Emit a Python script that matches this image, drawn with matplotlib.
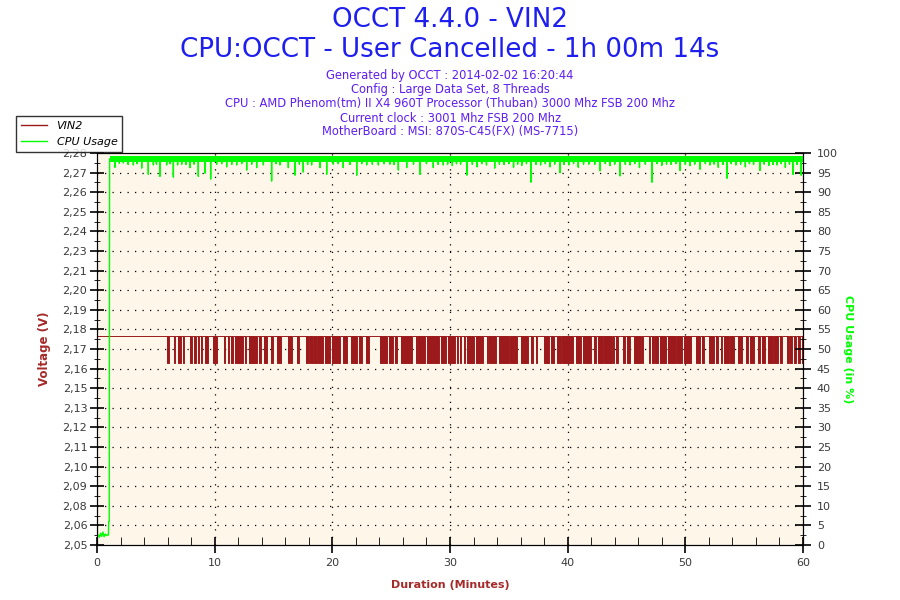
import matplotlib.pyplot as plt
from matplotlib.lines import Line2D
import numpy as np

# VIN2 voltage: steady level with blocks of fast toggling down to the low level (minutes)
volt_hi = 2.176
volt_lo = 2.160
run_end = 60.23
volt_dip_start = [5.95, 6.54, 6.88, 7.31, 7.90, 8.24, 8.58, 8.84, 9.18, 9.86, 10.79, 11.13, 11.39, 11.73,
                  12.58, 12.92, 13.77, 14.19, 14.79, 15.30, 16.23, 17.00, 17.76, 18.10, 18.44, 18.78,
                  19.38, 19.97, 20.91, 21.59, 22.27, 22.86, 24.05, 24.82, 25.32, 25.83, 27.11, 27.28,
                  28.04, 29.23, 29.83, 30.59, 30.85, 31.19, 31.44, 32.21, 33.14, 33.31, 34.16, 35.10,
                  36.03, 36.88, 37.31, 37.99, 38.58, 39.09, 39.52, 40.71, 41.30, 42.24, 42.58, 43.09,
                  43.85, 44.11, 44.70, 45.04, 45.64, 46.32, 46.91, 47.17, 47.42, 47.85, 48.52, 49.29,
                  49.88, 50.90, 51.42, 52.01, 52.60, 53.03, 53.28, 53.79, 54.47, 55.15, 55.49, 56.17,
                  56.51, 57.02, 57.53, 58.04, 58.64, 58.89, 59.23, 59.57, 59.91]
volt_dip_end = [6.12, 6.63, 7.14, 7.39, 8.07, 8.41, 8.67, 8.92, 9.43, 10.20, 10.88, 11.22, 11.56, 12.41,
                12.66, 13.60, 13.94, 14.45, 14.96, 15.64, 16.57, 17.17, 18.02, 18.36, 18.70, 19.21,
                19.80, 20.65, 21.25, 22.10, 22.52, 23.12, 24.64, 25.15, 25.49, 26.77, 27.19, 27.87,
                29.06, 29.66, 30.42, 30.68, 30.93, 31.27, 32.04, 32.80, 33.23, 33.91, 35.01, 35.69,
                36.63, 37.05, 37.39, 38.41, 38.84, 39.43, 40.45, 41.13, 41.98, 42.41, 43.00, 43.77,
                43.94, 44.28, 44.87, 45.30, 46.23, 46.40, 47.00, 47.34, 47.68, 48.35, 49.21, 49.71,
                50.48, 51.25, 51.59, 52.43, 52.77, 53.12, 53.71, 54.13, 54.81, 55.32, 55.83, 56.34,
                56.77, 57.45, 57.87, 58.21, 58.81, 59.06, 59.40, 59.74, 60.23]

# CPU usage: idle start, then full load with short dips
cpu_start_t = [0.0, 0.04, 0.1, 0.2, 0.3, 0.4, 0.5, 0.6, 0.7, 0.8, 0.9, 0.97, 0.99, 1.04, 1.07]
cpu_start_v = [12.0, 2.3, 2.5, 2.0, 3.0, 2.2, 3.3, 2.1, 2.8, 2.4, 2.6, 2.5, 5.9, 6.0, 98.5]
cpu_base = 98.5
cpu_dip_t = [1.53, 1.90, 2.24, 2.65, 3.09, 3.40, 3.80, 4.36, 4.79, 5.05, 5.35, 5.92, 6.20, 6.49, 6.85,
             7.20, 7.55, 7.90, 8.25, 8.61, 9.18, 9.66, 10.17, 10.60, 11.02, 11.45, 11.87, 12.30,
             12.72, 13.15, 13.57, 14.14, 14.84, 15.20, 15.55, 16.26, 16.83, 17.20, 17.53, 17.90,
             18.24, 18.95, 19.52, 20.08, 20.50, 20.93, 21.50, 22.07, 22.50, 22.92, 23.40, 23.91,
             24.40, 24.90, 25.25, 25.61, 26.32, 26.90, 27.45, 28.00, 28.58, 29.00, 29.43, 29.80,
             30.20, 30.55, 30.90, 31.44, 31.90, 32.30, 32.70, 33.10, 33.80, 34.20, 34.60, 35.00,
             35.40, 35.75, 36.10, 36.50, 36.88, 37.30, 37.70, 38.10, 38.50, 38.90, 39.35, 39.70,
             40.10, 40.50, 40.90, 41.35, 41.80, 42.30, 42.75, 43.20, 43.60, 44.00, 44.45, 44.90,
             45.30, 45.70, 46.10, 46.60, 47.17, 47.60, 48.00, 48.40, 48.80, 49.20, 49.55, 50.00,
             50.40, 50.80, 51.25, 51.70, 52.10, 52.45, 52.80, 53.20, 53.54, 53.90, 54.30, 54.70,
             55.10, 55.45, 55.80, 56.34, 56.70, 57.10, 57.45, 57.80, 58.15, 58.50, 58.85, 59.15,
             59.50, 59.85]
cpu_dip_v = [96.4, 97.4, 97.5, 97.1, 97.0, 97.3, 96.2, 94.6, 97.0, 97.2, 94.1, 97.0, 97.3, 93.9, 97.0,
             97.2, 97.1, 96.3, 97.2, 94.1, 94.9, 93.4, 97.2, 97.3, 96.5, 97.1, 97.0, 97.3,
             95.7, 97.2, 96.3, 97.0, 92.9, 97.3, 97.0, 96.3, 94.4, 97.2, 95.2, 97.1,
             97.0, 96.3, 94.6, 97.2, 97.3, 96.3, 97.1, 94.4, 97.3, 97.0, 97.2, 97.0,
             97.3, 97.2, 97.1, 95.7, 96.3, 97.2, 94.6, 97.3, 96.3, 97.1, 97.0, 97.2,
             96.8, 97.3, 97.2, 94.4, 97.1, 96.5, 97.3, 97.0, 96.2, 97.2, 97.1, 97.3,
             96.4, 97.2, 96.9, 97.3, 92.6, 97.1, 97.0, 97.3, 96.5, 97.2, 95.0, 97.1,
             97.0, 97.3, 96.4, 97.2, 97.2, 97.1, 95.5, 97.3, 96.8, 97.2, 94.2, 97.1,
             97.0, 97.3, 96.3, 97.2, 92.6, 97.3, 96.9, 97.2, 97.1, 97.3, 95.6, 97.1,
             96.8, 97.2, 95.9, 97.3, 97.0, 97.2, 96.4, 97.1, 93.6, 97.3, 97.0, 97.2,
             96.5, 97.3, 97.1, 95.6, 97.2, 96.9, 97.1, 97.0, 97.3, 96.4, 97.2, 94.6,
             97.1, 94.4]

volt_tick_labels = ["2,05", "2,06", "2,08", "2,09", "2,10", "2,11", "2,12", "2,13", "2,15", "2,16",
                    "2,17", "2,18", "2,19", "2,20", "2,21", "2,23", "2,24", "2,25", "2,26", "2,27", "2,28"]
volt_min, volt_max = 2.0532, 2.2832
minute_ticks = [0, 10, 20, 30, 40, 50, 60]
cpu_ticks = list(range(0, 101, 5))

red = "#9c1a1c"
label_red = "#a52a2a"
green = "#00ff00"

# build step series
vt, vv = [0.0], [volt_hi]
for a, b in zip(volt_dip_start, volt_dip_end):
    vt += [a, a, b, b]
    vv += [volt_hi, volt_lo, volt_lo, volt_hi]
vt.append(run_end)
vv.append(volt_hi)

ct, cv = list(cpu_start_t), list(cpu_start_v)
for t, v in zip(cpu_dip_t, cpu_dip_v):
    ct += [t, t, t]
    cv += [cpu_base, v, cpu_base]
ct.append(run_end)
cv.append(cpu_base)

fig = plt.figure(figsize=(9, 6), dpi=100)
fig.patch.set_facecolor("white")
ax = fig.add_axes([97 / 900, 55 / 600, 706 / 900, 392 / 600])
ax.set_facecolor("#fdf6e9")
ax2 = ax.twinx()

ax.plot(vt, vv, color=red, lw=0.7)
ax.fill_between(vt, vv, volt_hi, color=red, lw=0)
ax2.plot(ct, cv, color=green, lw=1.0)
ax2.plot([cpu_start_t[-1], run_end], [cpu_base, cpu_base], color=green, lw=4.3, solid_capstyle="butt")

ax.set_xlim(0, 60)
ax.set_ylim(volt_min, volt_max)
ax2.set_ylim(0, 100)

yt = np.linspace(volt_min, volt_max, len(volt_tick_labels))
ax.set_yticks(yt)
ax.set_yticklabels(volt_tick_labels)
ax.set_yticks(np.linspace(volt_min, volt_max, 2 * len(volt_tick_labels) - 1), minor=True)
ax.set_xticks(minute_ticks)
ax.set_xticks(range(0, 61, 2), minor=True)
ax2.set_yticks(cpu_ticks)
ax2.set_yticks(np.arange(0, 101, 2.5), minor=True)

ax.tick_params(axis="y", which="major", direction="inout", length=10, width=1.2,
               labelsize=8, labelcolor="#3a3a3a", pad=2)
ax.tick_params(axis="y", which="minor", direction="inout", length=5)
ax.tick_params(axis="x", which="major", direction="inout", length=12, width=1.2,
               labelsize=8, labelcolor="#3a3a3a", pad=3)
ax.tick_params(axis="x", which="minor", direction="in", length=6)
ax2.tick_params(axis="y", which="major", direction="inout", length=12, width=1.2,
                labelsize=8, labelcolor="#3a3a3a", pad=4)
ax2.tick_params(axis="y", which="minor", direction="inout", length=5)

for y in yt[1:-1]:
    ax.axhline(y, color="black", lw=0.9, linestyle=(0, (1, 5)), zorder=0.5)
for x in minute_ticks[1:-1]:
    ax.axvline(x, color="black", lw=0.9, linestyle=(0, (1, 5)), zorder=0.5)

ax.set_xlabel("Duration (Minutes)", color=label_red, fontsize=8, fontweight="bold")
ax.xaxis.set_label_coords(0.5, -0.089)
ax.set_ylabel("Voltage (V)", color=label_red, fontsize=8.5, fontweight="bold")
ax.yaxis.set_label_coords(-0.065, 0.5)
ax2.set_ylabel("CPU Usage (in %)", color=green, fontsize=8, fontweight="bold", rotation=270, va="center")
ax2.yaxis.set_label_coords(1.064, 0.5)

fig.text(0.5, 1 - 20 / 600, "OCCT 4.4.0 - VIN2", ha="center", va="center", fontsize=18.8, color="#1e1eee")
fig.text(0.5, 1 - 50 / 600, "CPU:OCCT - User Cancelled - 1h 00m 14s", ha="center", va="center",
         fontsize=18.8, color="#1e1eee")
info = ["Generated by OCCT : 2014-02-02 16:20:44",
        "Config : Large Data Set, 8 Threads",
        "CPU : AMD Phenom(tm) II X4 960T Processor (Thuban) 3000 Mhz FSB 200 Mhz",
        "Current clock : 3001 Mhz FSB 200 Mhz",
        "MotherBoard : MSI: 870S-C45(FX) (MS-7715)"]
for i, line in enumerate(info):
    fig.text(0.5, 1 - (76 + 14 * i) / 600, line, ha="center", va="center", fontsize=8.3, color="#5e1ef2")

handles = [Line2D([], [], color=red, lw=1), Line2D([], [], color=green, lw=1)]
leg = fig.legend(handles, ["VIN2", "CPU Usage"], loc="upper left", bbox_to_anchor=(16 / 900, 1 - 116 / 600),
                 prop={"size": 8, "style": "italic"}, frameon=True, fancybox=False, edgecolor="black",
                 handlelength=2.3, handletextpad=0.9, borderpad=0.45, labelspacing=0.55, borderaxespad=0)
leg.get_frame().set_linewidth(1.0)

fig.savefig("out.png", dpi=100)
